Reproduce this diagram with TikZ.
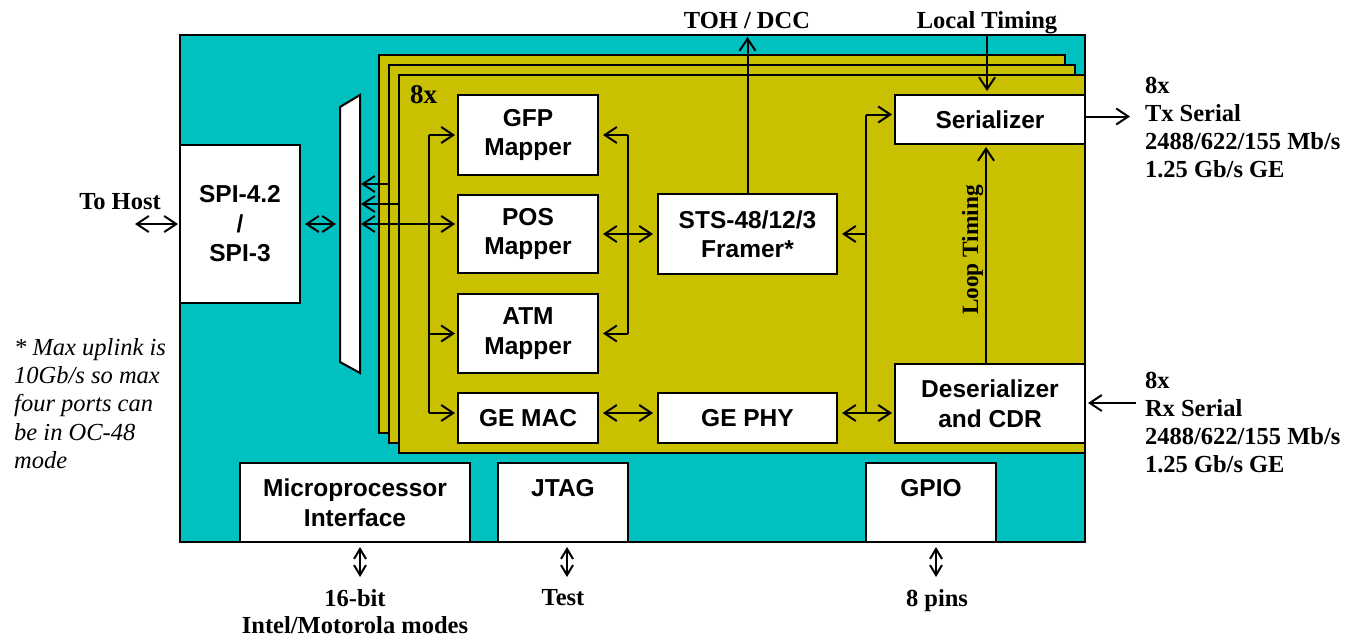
\documentclass[tikz,border=0pt]{standalone}
\usepackage{fontspec}
\setmainfont{Liberation Serif}
\setsansfont{Liberation Sans}
\usetikzlibrary{arrows.meta}
\definecolor{chipcyan}{RGB}{0,192,192}
\definecolor{boardyel}{RGB}{200,192,0}
\newcommand\bxfont{\sffamily\bfseries\fontsize{24.5}{29.5}\selectfont}
\newcommand\lbfont{\rmfamily\bfseries\fontsize{24.5}{28}\selectfont}
\begin{document}
\begin{tikzpicture}[x=1pt,y=-1pt,
  lw/.style={line width=2pt},
  blk/.style={draw,line width=2pt,fill=white,font=\bxfont,align=center,inner sep=0pt,outer sep=0pt},
  brd/.style={draw,line width=2pt,fill=boardyel,inner sep=0pt,outer sep=0pt},
  conn/.style={line width=2pt,-{Straight Barb[length=12pt,width=16pt]}},
  dconn/.style={line width=2pt,{Straight Barb[length=12pt,width=16pt]}-{Straight Barb[length=12pt,width=16pt]}},
  vconn/.style={line width=2pt,{Straight Barb[length=10pt,width=12pt]}-{Straight Barb[length=10pt,width=12pt]}},
  lbl/.style={font=\lbfont,inner sep=0pt,outer sep=0pt},
]
\useasboundingbox[fill=white] (0,0) rectangle (1357,637);

% chip and boards
\node[draw,line width=2pt,fill=chipcyan,minimum width=905pt,minimum height=507pt,inner sep=0pt,outer sep=0pt] (chip) at (632.5,288.5) {};
\node[brd,minimum width=686pt,minimum height=378pt] (board1) at (722,244) {};
\node[brd,minimum width=686pt,minimum height=378pt] (board2) at (732,254) {};
\node[brd,minimum width=686pt,minimum height=378pt] (board3) at (742,264) {};
\node[lbl,font=\rmfamily\bfseries\fontsize{27}{30}\selectfont,anchor=base west] (eightx) at (410,103) {8x};

% blocks
\node[blk,minimum width=120pt,minimum height=158pt] (spi) at (240,224) {SPI-4.2\\/\\SPI-3};
\node[minimum width=20pt,minimum height=278pt,inner sep=0pt,outer sep=0pt] (mux) at (350,234) {};
\draw[lw,fill=white] ([yshift=-12pt]mux.north west) -- (mux.north east) -- (mux.south east) -- ([yshift=11pt]mux.south west) -- cycle;

\node[blk,minimum width=140pt,minimum height=80pt] (gfp) at (528,135) {GFP\\Mapper};
\node[blk,minimum width=140pt,minimum height=78pt] (pos) at (528,234) {POS\\Mapper};
\node[blk,minimum width=140pt,minimum height=79pt] (atm) at (528,333.5) {ATM\\Mapper};
\node[blk,minimum width=140pt,minimum height=50pt] (gemac) at (528,418) {GE MAC};
\node[blk,minimum width=179pt,minimum height=80pt] (framer) at (747.5,234) {STS-48/12/3\\Framer*};
\node[blk,minimum width=179pt,minimum height=50pt] (gephy) at (747.5,418) {GE PHY};
\node[blk,minimum width=190pt,minimum height=49pt] (ser) at (990,119.5) {Serializer};
\node[blk,minimum width=190pt,minimum height=79pt] (deser) at (990,403.5) {Deserializer\\and CDR};
\node[blk,minimum width=230pt,minimum height=79pt] (micro) at (355,502.5) {Microprocessor\\Interface};
\node[blk,minimum width=130pt,minimum height=79pt] (jtag) at (563,502.5) {JTAG\\~};
\node[blk,minimum width=130pt,minimum height=79pt] (gpio) at (931,502.5) {GPIO\\~};

% labels
\node[lbl,anchor=base] (toh) at (747,28) {TOH / DCC};
\node[lbl,anchor=base] (lt) at (987,28) {Local Timing};
\node[lbl,font=\rmfamily\bfseries\fontsize{23.3}{28}\selectfont,rotate=90,anchor=base] (loop) at (978,250) {Loop Timing};
\node[lbl] (host) at (120,202) {To Host};
\node[lbl,anchor=north west,align=left] (tx) at (1145,77) {8x\\Tx Serial\\2488/622/155 Mb/s\\1.25 Gb/s GE};
\node[lbl,anchor=north west,align=left] (rx) at (1145,372) {8x\\Rx Serial\\2488/622/155 Mb/s\\1.25 Gb/s GE};
\node[lbl,anchor=north,align=center,font=\rmfamily\bfseries\fontsize{24.5}{27.5}\selectfont] (mlbl) at (355,589) {16-bit\\Intel/Motorola modes};
\node[lbl,anchor=north] (jlbl) at (563,589) {Test};
\node[lbl,anchor=north] (glbl) at (937,589) {8 pins};
\node[inner sep=0pt,anchor=north west,align=left,font=\rmfamily\itshape\fontsize{24.5}{28.3}\selectfont] (note) at (14,338) {* Max uplink is\\10Gb/s so max\\four ports can\\be in OC-48\\mode};

% coordinates
\coordinate (hostA) at (135,224);
\coordinate (mA) at (361,184);
\coordinate (mB) at (361,204);
\coordinate (lb) at (429,0);
\coordinate (mb) at (628,0);
\coordinate (rr) at (866,0);
\coordinate (gA) at ([yshift=5pt]gemac.east);
\coordinate (sA) at ([yshift=5pt]ser.west);
\coordinate (pA) at ([yshift=5pt]gephy.east);
\coordinate (lpA) at ([xshift=-4pt]deser.north);
\coordinate (txA) at ([yshift=3pt]ser.east);
\coordinate (txE) at (1130,116.5);
\coordinate (rxS) at (1136,403);

% host side
\draw[dconn,shorten >=2pt] (hostA) -- (spi.west);
\draw[dconn,shorten <=5pt,shorten >=4pt] (spi.east) -- (mux.west |- spi.east);
\draw[conn] (board2.west |- mA) -- (mA);
\draw[conn] (board3.west |- mB) -- (mB);
\draw[dconn,shorten <=1pt,shorten >=3pt] (mux.east |- spi.east) -- (pos.west |- spi.east);

% left mapper bus
\draw[lw] (lb |- gfp.west) -- (lb |- gA);
\draw[conn,shorten >=3pt] (lb |- gfp.west) -- (gfp.west);
\draw[conn,shorten >=3pt] (lb |- atm.west) -- (atm.west);
\draw[conn,shorten >=3pt] (lb |- gA) -- (gemac.west |- gA);

% right mapper bus
\draw[lw] (mb |- gfp.east) -- (mb |- atm.east);
\draw[conn,shorten >=5pt] (mb |- gfp.east) -- (gfp.east);
\draw[conn,shorten >=5pt] (mb |- atm.east) -- (atm.east);
\draw[dconn,shorten <=5pt,shorten >=5pt] (pos.east) -- (framer.west);
\draw[dconn,shorten <=5pt,shorten >=5pt] (gA) -- (gephy.west |- gA);

% framer to TOH
\draw[conn,shorten >=2pt] (framer.north) -- (framer.north |- chip.north);

% right bus
\draw[lw] (rr |- sA) -- (rr |- pA);
\draw[conn,shorten >=3pt] (rr |- sA) -- (sA);
\draw[conn,shorten >=5pt] (rr |- framer.east) -- (framer.east);
\draw[conn,shorten >=5pt] (rr |- pA) -- (pA);
\draw[conn,shorten >=3pt] (rr |- pA) -- (deser.west |- pA);

% timing
\draw[conn,shorten <=1pt,shorten >=4pt] (lt.south) -- (lt.south |- ser.north);
\draw[conn,shorten >=3pt] (lpA) -- (lpA |- ser.south);

% serial
\draw[conn] (txA) -- (txE);
\draw[conn,shorten >=3pt] (rxS) -- (deser.east |- rxS);

% bottom
\draw[vconn,shorten <=5pt,shorten >=12pt] ([xshift=5pt]micro.south) -- ([xshift=5pt]mlbl.north);
\draw[vconn,shorten <=5pt,shorten >=12pt] ([xshift=4pt]jtag.south) -- ([xshift=4pt]jlbl.north);
\draw[vconn,shorten <=5pt,shorten >=12pt] ([xshift=5pt]gpio.south) -- ([xshift=-1pt]glbl.north);
\end{tikzpicture}
\end{document}
